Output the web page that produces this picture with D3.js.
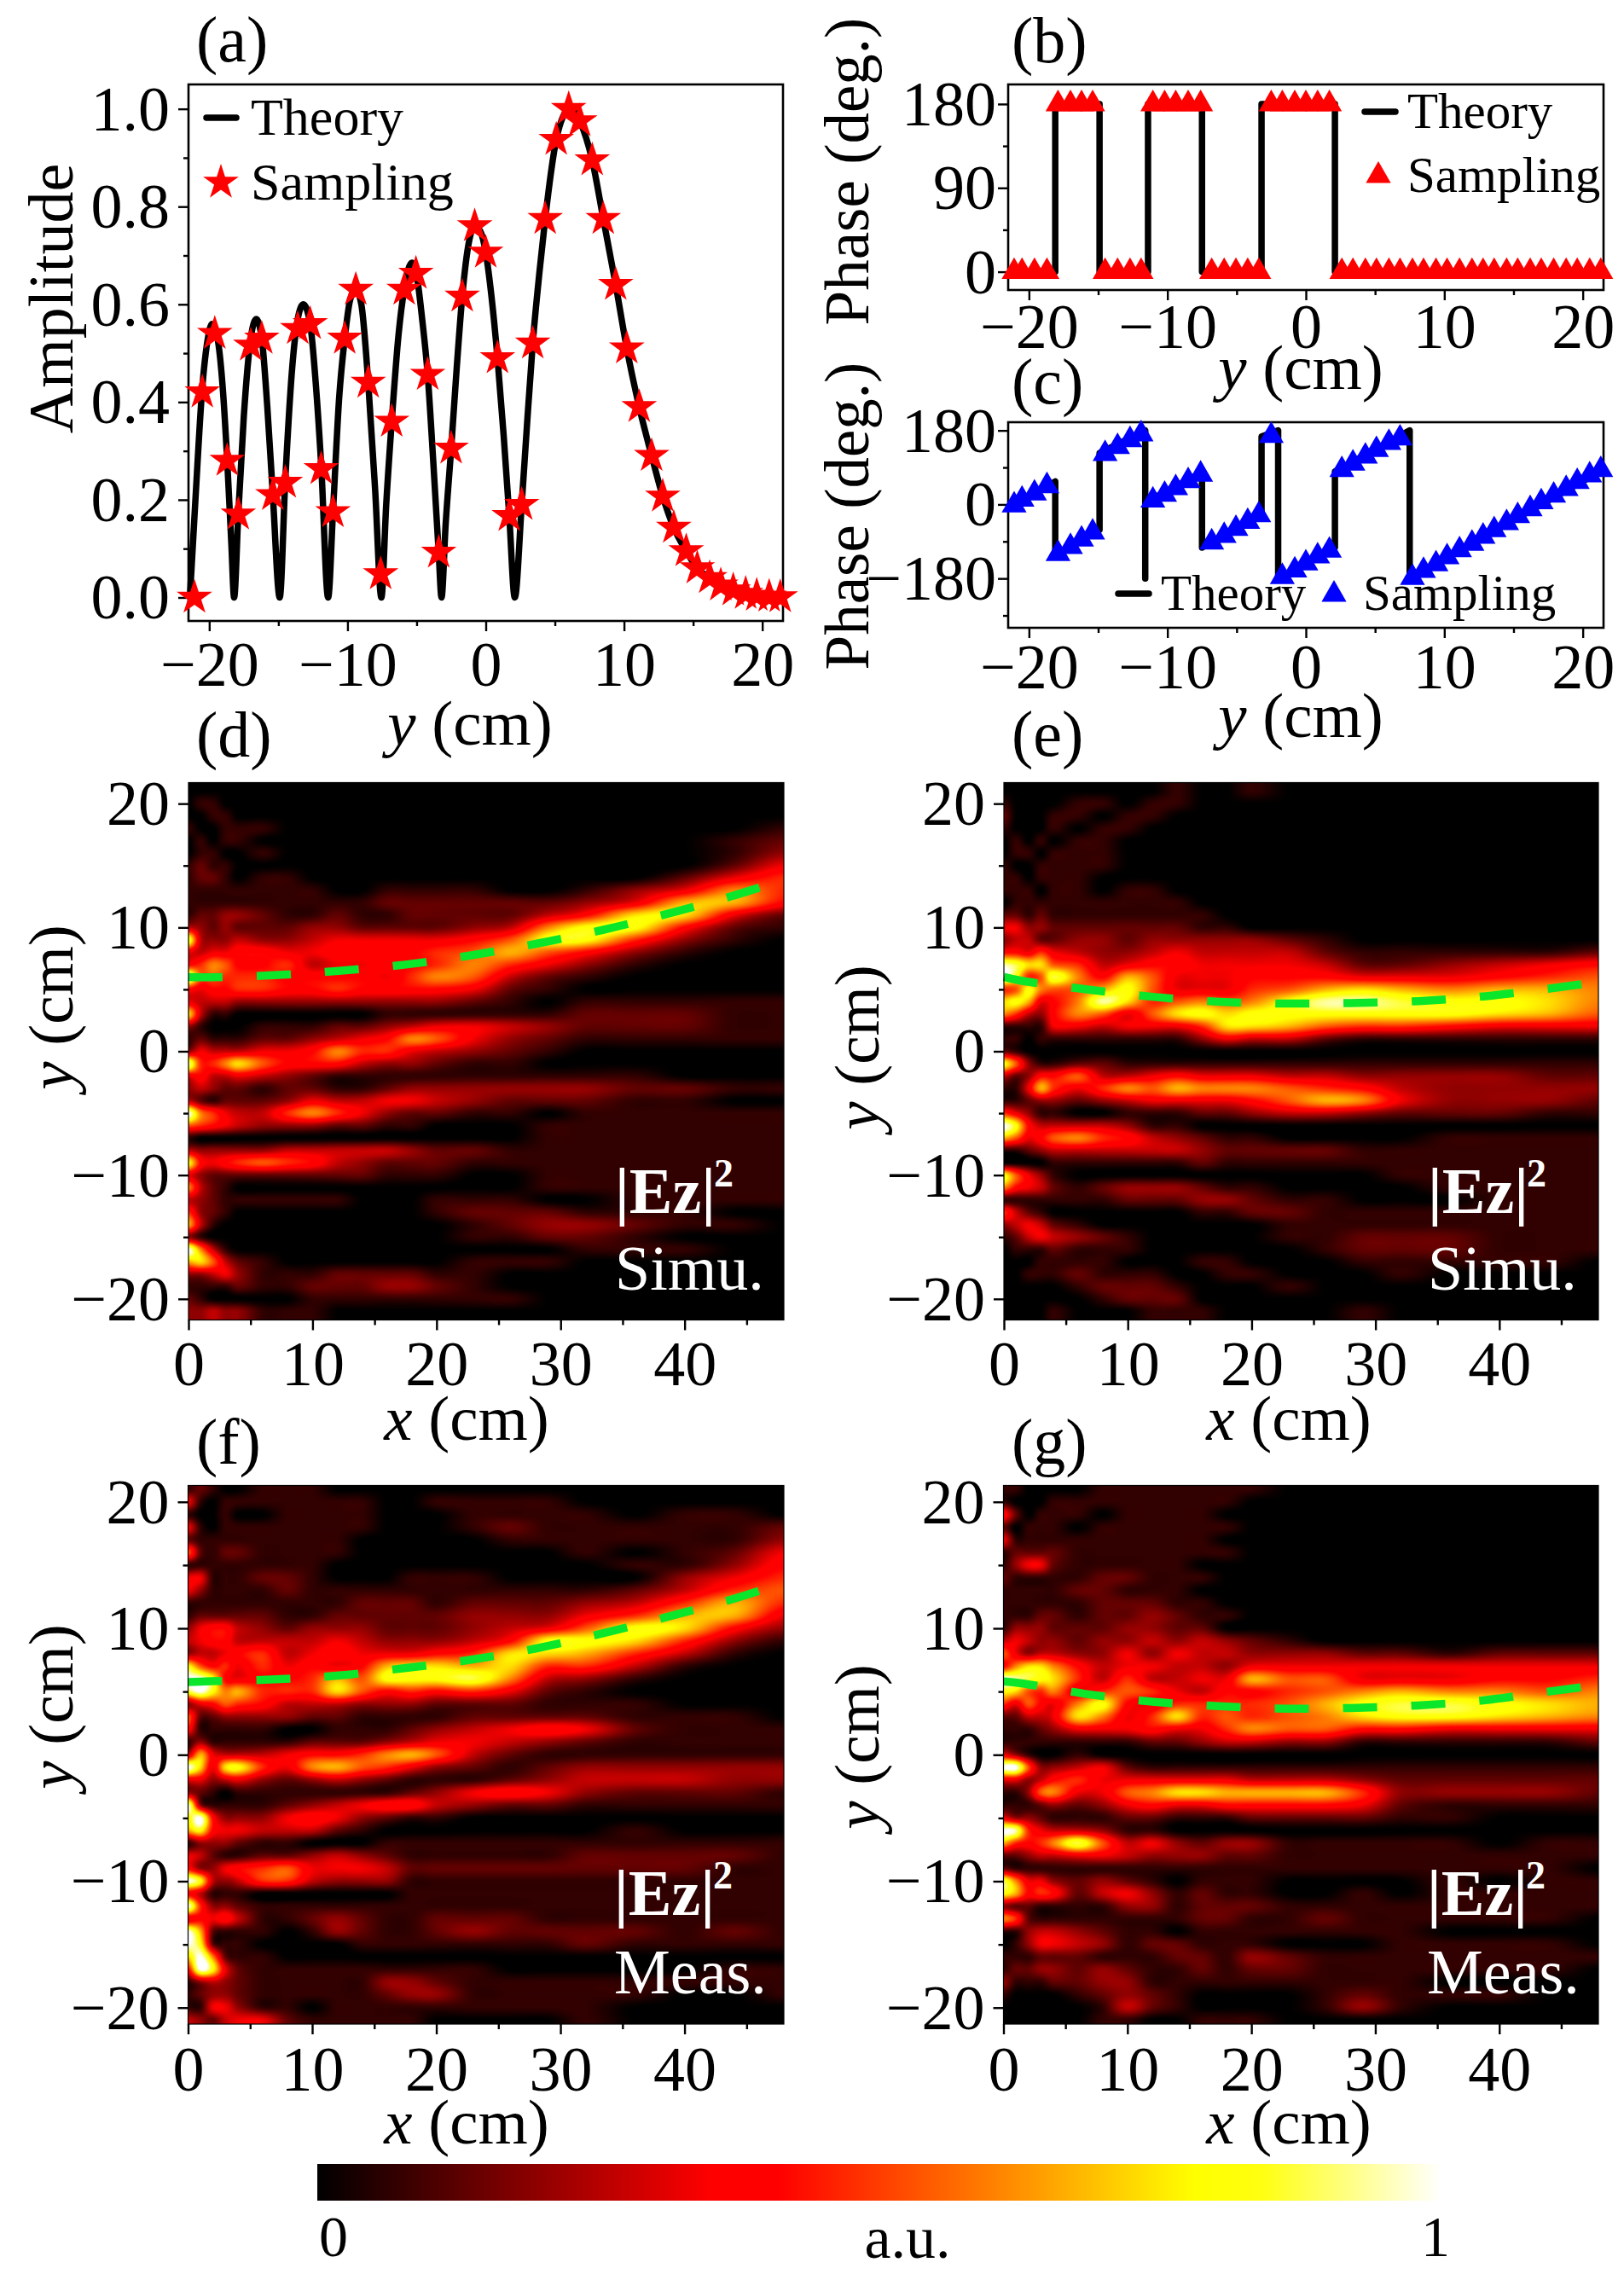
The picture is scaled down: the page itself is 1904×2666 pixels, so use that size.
<!DOCTYPE html>
<html lang="en">
<head>
<meta charset="UTF-8">
<title>Beam amplitude, phase and field maps</title>
<script src="https://cdn.jsdelivr.net/npm/d3@7"></script>
<style>
  body { margin: 0; background: #fff; }
  svg { display: block; }
  text { font-family: "Liberation Serif", serif; fill: #000; }
</style>
</head>
<body>
<script>
// sampling positions along y (cm), shared by panels a, b, c
const sampleY = [-21.07,-20.5,-19.6,-18.7,-17.9,-17,-16.2,-15.4,-14.5,-13.6,-12.7,-11.9,-11.05,-10.2,-9.4,-8.5,-7.6,-6.8,-5.9,-5.05,-4.2,-3.4,-2.5,-1.7,-0.8,0,0.85,1.7,2.6,3.4,4.3,5.1,6,6.8,7.7,8.5,9.4,10.2,11.1,12,12.8,13.6,14.5,15.3,16.2,17,17.9,18.8,19.6,20.5,21.3];
const sampleAmp = [0,0.42,0.54,0.28,0.17,0.516,0.53,0.21,0.235,0.55,0.56,0.263,0.175,0.53,0.63,0.44,0.048,0.36,0.63,0.663,0.456,0.092,0.305,0.616,0.76,0.706,0.49,0.167,0.19,0.52,0.775,0.937,1,0.975,0.895,0.775,0.64,0.51,0.39,0.29,0.207,0.143,0.095,0.06,0.04,0.025,0.015,0.008,0.004,0.002,0.001];
const samplePhaseB = [0,0,0,0,180,180,180,180,0,0,0,0,180,180,180,180,180,0,0,0,0,0,180,180,180,180,180,180,0,0,0,0,0,0,0,0,0,0,0,0,0,0,0,0,0,0,0,0,0,0,0];
const samplePhaseC = [-2,12,27,45,-120,-103,-85,-68,123,140,157,171,10,24,40,57,73,-92,-76,-59,-42,-26,167,-176,-160,-143,-126,-112,84,100,117,133,150,161,-178,-161,-145,-128,-111,-95,-78,-62,-45,-28,-11,6,22,38,55,71,84];

const theoryAmpY = [-21.4,-21,-20.5,-20.1,-19.8,-19.4,-19,-18.7,-18.4,-18.2,-17.9,-17.5,-17,-16.6,-16.2,-15.8,-15.4,-14.9,-14.5,-14,-13.6,-13.2,-12.7,-12.3,-11.9,-11.4,-11.05,-10.6,-10.2,-9.8,-9.4,-9,-8.5,-8,-7.55,-7.2,-6.8,-6.3,-5.9,-5.35,-5,-4.6,-4.2,-3.8,-3.4,-3.2,-2.9,-2.5,-2.1,-1.7,-1.2,-0.8,-0.4,0,0.4,0.85,1.3,1.7,2.1,2.6,3,3.4,3.9,4.3,5.1,5.6,6,6.4,6.8,7.7,8.5,9.4,10.2,11.1,12,12.8,13.6,14.5,15.3,16.2,17,18,19,20,21.5];
const theoryAmp = [0,0.2,0.43,0.53,0.56,0.53,0.42,0.28,0.11,0,0.17,0.37,0.53,0.57,0.53,0.39,0.21,0,0.24,0.47,0.57,0.6,0.56,0.44,0.27,0,0.175,0.41,0.53,0.61,0.63,0.6,0.44,0.22,0,0.19,0.36,0.54,0.63,0.685,0.66,0.57,0.456,0.28,0.09,0,0.15,0.305,0.47,0.616,0.73,0.76,0.75,0.706,0.62,0.49,0.33,0.167,0,0.19,0.36,0.52,0.67,0.775,0.937,0.985,1,0.995,0.975,0.895,0.775,0.64,0.51,0.39,0.29,0.207,0.143,0.095,0.06,0.04,0.025,0.012,0.006,0.003,0];

const theoryPhaseBY = [-21.5,-18.1,-18.1,-14.9,-14.9,-11.4,-11.4,-7.5,-7.5,-3.2,-3.2,2.1,2.1,21.5];
const theoryPhaseB = [0,0,180,180,0,0,180,180,0,0,180,180,0,0];
const theoryPhaseCY = [-21.5,-18.1,-18.1,-14.9,-14.9,-11.6,-11.6,-11.6,-7.5,-7.5,-3.2,-3.2,-2,-2,2.1,2.1,7.5,7.5,21.5];
const theoryPhaseC = [-10,56,-125,-62,125,180,-180,5,78,-105,-20,165,180,-180,-105,80,180,-180,85];

// field map grids, hex digit per cell (0 = black, f = white)
const gridX = [0,1,2,3,4,6,8,10,12,14,16,18,20,23,26,29,32,36,40,44,48];
const gridY = [21,20,19,18,17,16,15,14,13,12,11,10,9,8,7,6,5,4,3,2,1,0,-1,-2,-3,-4,-5,-6,-7,-8,-9,-10,-11,-12,-13,-14,-15,-16,-17,-18,-19,-20,-21];
const fieldD = ["000000000000000000000","011000000000000000000","001100000000000000000","100111000000000000001","010110000000000000012","011001000000000000013","121100000000000000025","122101100000000000257","111111110011110013597","111111111122222235aa6","12233211211222246bb52","4323222332222349cc621","d43343345555568cc7310","54556655666678a863100","679866745566797531000","f88777666657984210000","656677667666652100000","544433333333321011111","b41100000011111122211","310001112234554322211","121112234569853211111","354445569775432100000","e779b8666433211000000","564454321111111111000","343221221123333332211","421222354455432221100","f97544797532211011111","876543332211000111111","100000000000000111111","433333444443221111111","c65678764322211111111","532222222211100111111","942100000000000111111","432111111000111001111","732100000000122211100","a41000000000012332110","310000000000011221000","f94100000000000011100","ab8421000000011100000","334531112222110000000","111121122233210000000","210000011111111000000","334331110000000000000"];
const fieldE = ["000000000100100000000","100001101100000000000","200011011000000000000","100010110000000000000","010101100000000000000","011011100000000000000","100111100000000000000","110111000000000000000","111011011000000000000","011111111100000000000","221211111110000000000","553322222211000000000","344223323333321000000","665754334544442111112","edbb87456655554223456","fc78d96a8555666555678","78c988ac855578aba9aa9","bca569eb78989ceedccb9","974369858bcbccccccba8","11115545557bba8776555","110111111135442111111","210000000000000000000","c83112211111111111111","423668445655544333322","115a75798a99987643333","11233234555568a953332","753110011122344322211","fc6444431100000000000","a85689764321100001111","112344444432222111111","000011111121111111111","c85310000000000011111","965421233321100001111","111111122233211000111","742100000011221111111","345421000000011111111","124543210000011222111","011121110000001222111","000111100011000111110","001112111001100010000","000001222100010000000","000000122200000000000","000010001110000100000"];
const fieldF = ["121001110000000000000","510111111100111100000","100100111100011110110","510111111100012111112","211111111000001111113","821221111000000010125","111111110000000001136","551112210001110000357","531111211111111112478","1111111112221222347a7","122222112222233357aa5","35664323332223458cb63","456644445433346ccb731","34456745655567bba7410","c867575656abbab774100","ffc65667a8cccd9431000","dfc9a777b867675210000","356876444333222111000","822333322111122221110","611111001112345652111","131111122234554321111","4a544456679a842111111","fb5bc759a875321233333","553453234321112344433","321011111112356532221","f31111234566432211111","cf6333565321100000000","ac6554442100000001000","133321100011111111111","542112234321111122221","633567855542222222211","fc4347743331111111111","641110000001111111111","f73321111111111111111","565641123211222111111","fa2111013211232222121","fc2110000111111121111","bf9211000000000000000","6fc521111111110000011","134321111133211111111","123321111123311111001","115531101111111110000","432455211111000010000"];
const fieldG = ["110000111111100000000","100011111111000000000","620111011110000000000","201110111111000000000","511111111110000000000","122221111111000000000","135521111100000000000","211111221110000000000","111112211100000000000","111111222110000000000","111221223211000000000","133322233220000000000","454332334343210000000","853443353544333221222","69bb96455443555555555","fedcb7474455a88555667","cb87957875466789a9989","758659c6577778acddcba","22445b957b78789bccba9","111235556557988665555","111111112234433111112","531001000000000000000","ff8334521111111111111","553467555555444322222","113895589bbaaaa733332","111232356556666521111","533211122111222211000","fe7544311000000000000","a7679d845323311111011","223445543332211111111","211111111111111111110","d95532321011100001011","ca6762453121100101111","322111133122211111111","972111111122112111110","113443211011111110000","013554312211100011110","111222111221321111111","122332321121221111110","311122331111111110000","100001232100001211100","000000142100001310000","000000110011100000000"];

// beam centre (green dashes)
const beamDX = [0,1.4,6.9,12.1,17.5,22.8,28.1,33.4,38.6,43.7,48];
const beamDY = [6,5.97,6.15,6.5,7,7.75,8.7,9.8,11.1,12.5,13.85];
const beamEX = [0,1.4,6.7,12,17.4,22.8,28,33.5,38.9,44.3,48];
const beamEY = [6,5.7,5,4.4,4,3.85,3.9,4.05,4.45,5.1,5.6];
const beamFX = [0,1.4,6.7,12,17.4,22.7,28,33.2,38.4,43.5,48];
const beamFY = [5.75,5.8,5.95,6.25,6.85,7.5,8.4,9.55,10.85,12.2,13.6];
const beamGX = [0,1.45,6.75,12,17.3,22.7,28,33.4,38.7,44,48];
const beamGY = [5.8,5.65,4.8,4.2,3.85,3.65,3.7,3.9,4.3,5,5.5];

// colour map stops
const hotStops = [0,0.35,0.41,0.6,0.78,0.84,1];
const hotColors = ["#000000","#ff0000","#ff0000","#ff8000","#ffff00","#ffff10","#ffffff"];

const width = 1904, height = 2666;
const hot = d3.scaleLinear().domain(hotStops).range(hotColors).clamp(true);

const svg = d3.select("body").append("svg").attr("width", width).attr("height", height);

const tickFont = 74, titleFont = 75;

function frame(o) {
  const x = d3.scaleLinear().domain(o.xDomain).range([o.left, o.right]);
  const y = d3.scaleLinear().domain(o.yDomain).range([o.bottom, o.top]);
  const g = svg.append("g");

  const put = (axis, tr) => {
    const a = g.append("g").attr("transform", tr).call(axis);
    a.select(".domain").remove();
    a.selectAll("line").attr("stroke", "#000").attr("stroke-width", 2.4);
    return a;
  };

  const xa = put(d3.axisBottom(x).tickValues(o.xTicks).tickSize(12).tickFormat(d3.format("d")), `translate(0,${o.bottom})`);
  xa.selectAll("text").attr("y", o.xLabelY).attr("dy", 0).attr("font-size", tickFont).style("fill", "#000").attr("font-family", "Liberation Serif");
  put(d3.axisBottom(x).tickValues(o.xMinor).tickSize(6).tickFormat(""), `translate(0,${o.bottom})`);

  const ya = put(d3.axisLeft(y).tickValues(o.yTicks).tickSize(12).tickFormat(o.yFormat || d3.format("d")), `translate(${o.left},0)`);
  ya.selectAll("text").attr("x", o.yLabelX || -22).attr("dy", "0.33em").attr("font-size", tickFont).style("fill", "#000").attr("font-family", "Liberation Serif");
  put(d3.axisLeft(y).tickValues(o.yMinor).tickSize(6).tickFormat(""), `translate(${o.left},0)`);

  const box = svg.append("rect").attr("x", o.left).attr("y", o.top)
    .attr("width", o.right - o.left).attr("height", o.bottom - o.top)
    .attr("fill", "none").attr("stroke", "#000").attr("stroke-width", o.boxWidth || 2.6);
  return { x, y, box };
}

function label(txt, x, y, size) {
  return svg.append("text").attr("x", x).attr("y", y).attr("font-size", size).text(txt);
}

function titleX(letter, cx, y) {
  const t = svg.append("text").attr("x", cx).attr("y", y).attr("font-size", titleFont).attr("text-anchor", "middle");
  t.append("tspan").attr("font-style", "italic").text(letter);
  t.append("tspan").text(" (cm)");
}

function titleY(parts, x, cy, size) {
  const t = svg.append("text").attr("transform", `translate(${x},${cy}) rotate(-90)`)
    .attr("font-size", size).attr("text-anchor", "middle");
  parts.forEach(p => t.append("tspan").attr("font-style", p[1] ? "italic" : "normal").text(p[0]));
}

function theoryLine(s, xs, ys, curve) {
  const line = d3.line().x((d, i) => s.x(xs[i])).y((d, i) => s.y(ys[i])).curve(curve);
  svg.append("path").datum(xs).attr("d", line).attr("fill", "none").attr("stroke", "#000")
    .attr("stroke-width", 7.5).attr("stroke-linejoin", "round");
}

function markers(s, xs, ys, type, size, color) {
  svg.append("g").selectAll("path").data(xs).join("path")
    .attr("d", d3.symbol().type(type).size(size))
    .attr("transform", (d, i) => `translate(${s.x(d)},${s.y(ys[i])})`)
    .attr("fill", color);
}

function legendDash(x0, x1, y) {
  svg.append("line").attr("x1", x0).attr("x2", x1).attr("y1", y).attr("y2", y)
    .attr("stroke", "#000").attr("stroke-width", 7.5).attr("stroke-linecap", "round");
}

function marker(x, y, type, size, color) {
  svg.append("path").attr("d", d3.symbol().type(type).size(size))
    .attr("transform", `translate(${x},${y})`).attr("fill", color);
}

const ySpanTicks = [-20,-10,0,10,20], ySpanMinor = [-15,-5,5,15];
const starSize = 540, triSize = 370;

// (a)
const pa = frame({ left: 221, right: 918, top: 99, bottom: 728, xDomain: [-21.5, 21.5], yDomain: [-0.048, 1.05],
  xTicks: ySpanTicks, xMinor: ySpanMinor, yTicks: [0,0.2,0.4,0.6,0.8,1], yMinor: [0.1,0.3,0.5,0.7,0.9],
  yFormat: d3.format(".1f"), xLabelY: 76 });
theoryLine(pa, theoryAmpY, theoryAmp, d3.curveMonotoneX);
markers(pa, sampleY, sampleAmp, d3.symbolStar, starSize, "#ff0000");
legendDash(242, 277, 138);
label("Theory", 294, 158, 62);
marker(259, 214, d3.symbolStar, starSize, "#ff0000");
label("Sampling", 294, 234, 62);
label("(a)", 230, 72, 76);
titleY([["Amplitude"]], 85, 350, 74);
titleX("y", 551, 873);

// (b)
const pb = frame({ left: 1182, right: 1880, top: 99, bottom: 340, xDomain: [-21.5, 21.5], yDomain: [-19.6, 201],
  xTicks: ySpanTicks, xMinor: ySpanMinor, yTicks: [0,90,180], yMinor: [45,135], xLabelY: 68, yLabelX: -14 });
theoryLine(pb, theoryPhaseBY, theoryPhaseB, d3.curveLinear);
markers(pb, sampleY, samplePhaseB, d3.symbolTriangle, triSize, "#ff0000");
legendDash(1600, 1636, 131);
label("Theory", 1650, 150, 59);
marker(1616, 206, d3.symbolTriangle, triSize, "#ff0000");
label("Sampling", 1650, 225, 59);
label("(b)", 1186, 73, 76);
titleY([["Phase (deg.)"]], 1018, 201, 73);
titleX("y", 1525, 456);

// (c)
const pc = frame({ left: 1182, right: 1880, top: 495, bottom: 736, xDomain: [-21.5, 21.5], yDomain: [-300, 200],
  xTicks: ySpanTicks, xMinor: ySpanMinor, yTicks: [-180,0,180], yMinor: [-270,-90,90], xLabelY: 71, yLabelX: -14 });
theoryLine(pc, theoryPhaseCY, theoryPhaseC, d3.curveLinear);
markers(pc, sampleY, samplePhaseC, d3.symbolTriangle, triSize, "#0000ff");
legendDash(1311, 1347, 696);
label("Theory", 1361, 715, 59);
marker(1564, 697, d3.symbolTriangle, triSize, "#0000ff");
label("Sampling", 1598, 715, 59);
label("(c)", 1186, 473, 76);
titleY([["Phase (deg.)"]], 1018, 605, 73);
titleX("y", 1525, 864);

// field maps: colour table, then Catmull-Rom through the grid cells
const lut = d3.range(256).map(i => d3.rgb(hot(i / 255)));

function cubic(a, b, c, d, t) {
  return b + 0.5 * t * (c - a + t * (2 * a - 5 * b + 4 * c - d + t * (3 * (b - c) + d - a)));
}

function fieldImage(rows, o, s) {
  const w = Math.round(o.right - o.left), h = Math.round(o.bottom - o.top);
  const cv = document.createElement("canvas");
  cv.width = w; cv.height = h;
  const ctx = cv.getContext("2d");
  const img = ctx.createImageData(w, h);
  const cells = rows.map(r => Array.from(r.padEnd(gridX.length, "0"), c => parseInt(c, 16) / 15));
  const ci = d3.scaleLinear().domain(gridX).range(d3.range(gridX.length)).clamp(true);
  const ri = d3.scaleLinear().domain(gridY).range(d3.range(gridY.length)).clamp(true);
  const nx = gridX.length - 1, ny = gridY.length - 1;
  const clampI = (v, m) => Math.max(0, Math.min(m, v));
  for (let py = 0; py < h; py++) {
    const fy = ri(s.y.invert(o.top + py + 0.5));
    const j = Math.min(ny - 1, Math.floor(fy)), ty = fy - j;
    for (let px = 0; px < w; px++) {
      const fx = ci(s.x.invert(o.left + px + 0.5));
      const i = Math.min(nx - 1, Math.floor(fx)), tx = fx - i;
      const col = [];
      for (let m = -1; m <= 2; m++) {
        const r = cells[clampI(j + m, ny)];
        col.push(cubic(r[clampI(i - 1, nx)], r[i], r[clampI(i + 1, nx)], r[clampI(i + 2, nx)], tx));
      }
      const v = cubic(col[0], col[1], col[2], col[3], ty);
      const c = lut[Math.max(0, Math.min(255, Math.round(v * 255)))];
      const k = (py * w + px) * 4;
      img.data[k] = c.r; img.data[k + 1] = c.g; img.data[k + 2] = c.b; img.data[k + 3] = 255;
    }
  }
  ctx.putImageData(img, 0, 0);
  return cv.toDataURL();
}

function fieldPanel(o) {
  o.xDomain = [0, 48]; o.xTicks = [0,10,20,30,40]; o.xMinor = [5,15,25,35,45];
  o.yTicks = ySpanTicks; o.yMinor = ySpanMinor; o.boxWidth = 1.2;
  const s = frame(o);
  svg.append("image").attr("x", o.left).attr("y", o.top)
    .attr("width", o.right - o.left).attr("height", o.bottom - o.top)
    .attr("preserveAspectRatio", "none").attr("href", fieldImage(o.rows, o, s));
  const line = d3.line().x((d, i) => s.x(o.beamX[i])).y((d, i) => s.y(o.beamY[i])).curve(d3.curveCatmullRom);
  svg.append("path").datum(o.beamX).attr("d", line).attr("fill", "none")
    .attr("stroke", "#0ae62a").attr("stroke-width", 9.5).attr("stroke-dasharray", "40 40");
  svg.node().appendChild(s.box.node());
  svg.append("text").attr("x", o.noteX).attr("y", o.noteY).attr("font-size", 76)
    .attr("font-weight", "bold").style("fill", "#fff").text("|Ez|");
  svg.append("text").attr("x", o.noteX + 116).attr("y", o.noteY - 31).attr("font-size", 46)
    .attr("font-weight", "bold").style("fill", "#fff").text("2");
  svg.append("text").attr("x", o.noteX).attr("y", o.noteY + o.noteGap).attr("font-size", 74)
    .style("fill", "#fff").text(o.note);
}

fieldPanel({ left: 221, right: 919, top: 917.5, bottom: 1547.5, yDomain: [-21.7, 21.7], xLabelY: 76,
  rows: fieldD, beamX: beamDX, beamY: beamDY, noteX: 721, noteY: 1422, noteGap: 90, note: "Simu." });
fieldPanel({ left: 1177, right: 1874, top: 917.5, bottom: 1547.5, yDomain: [-21.7, 21.7], xLabelY: 76,
  rows: fieldE, beamX: beamEX, beamY: beamEY, noteX: 1674, noteY: 1422, noteGap: 90, note: "Simu." });
fieldPanel({ left: 220.5, right: 919, top: 1741.5, bottom: 2373, yDomain: [-21.3, 21.3], xLabelY: 78,
  rows: fieldF, beamX: beamFX, beamY: beamFY, noteX: 720, noteY: 2245, noteGap: 92, note: "Meas." });
fieldPanel({ left: 1176.5, right: 1874, top: 1741.5, bottom: 2373, yDomain: [-21.3, 21.3], xLabelY: 78,
  rows: fieldG, beamX: beamGX, beamY: beamGY, noteX: 1673, noteY: 2245, noteGap: 92, note: "Meas." });

label("(d)", 230, 887, 76);
label("(e)", 1186, 886, 76);
label("(f)", 230, 1716, 76);
label("(g)", 1186, 1716, 76);
titleX("x", 547, 1688);
titleX("x", 1511, 1688);
titleX("x", 547, 2513);
titleX("x", 1511, 2513);
titleY([["y", true], [" (cm)"]], 85, 1181, 75);
titleY([["y", true], [" (cm)"]], 1030, 1228, 75);
titleY([["y", true], [" (cm)"]], 85, 2001, 75);
titleY([["y", true], [" (cm)"]], 1030, 2048, 75);

// colour bar
const grad = svg.append("defs").append("linearGradient").attr("id", "hotbar");
hotStops.forEach((d, i) => grad.append("stop").attr("offset", d).attr("stop-color", hotColors[i]));
svg.append("rect").attr("x", 372).attr("y", 2537).attr("width", 1318).attr("height", 43).attr("fill", "url(#hotbar)");
label("0", 391, 2645, 68).attr("text-anchor", "middle");
label("a.u.", 1064, 2647, 70).attr("text-anchor", "middle");
label("1", 1683, 2645, 68).attr("text-anchor", "middle");
</script>
</body>
</html>
